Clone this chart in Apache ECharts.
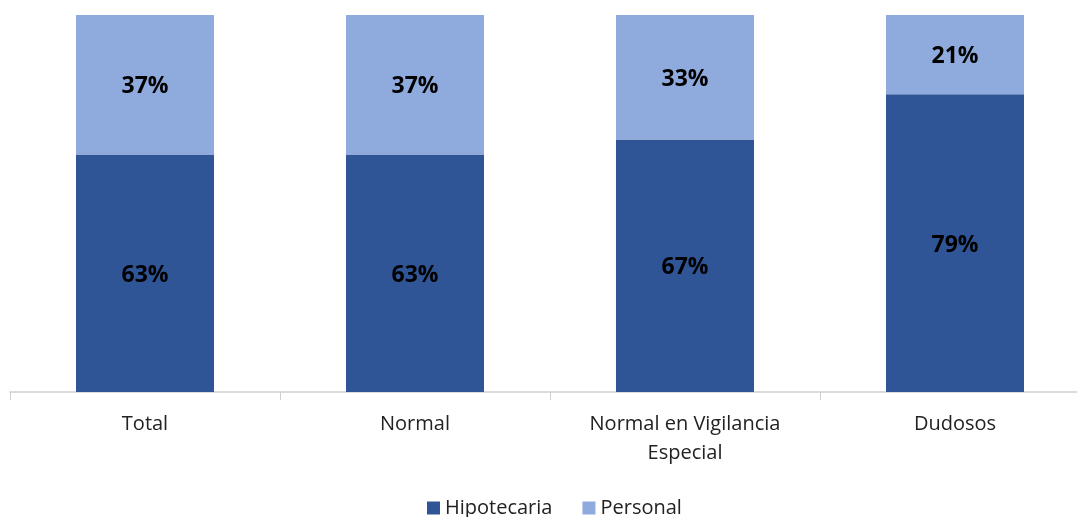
<!DOCTYPE html>
<html><head><meta charset="utf-8">
<script src="https://cdn.jsdelivr.net/npm/echarts@6/dist/echarts.min.js"></script>
<style>html,body{margin:0;padding:0;background:#fff;overflow:hidden;width:1077px;height:517px}#c{width:1100px;height:517px}</style>
</head><body><div id="c"></div>
<script>
var categories = ['Total', 'Normal', 'Normal en Vigilancia\nEspecial', 'Dudosos'];
var hipotecaria = [63, 63, 67, 79];
var personal = [37, 37, 33, 21];
var seriesNames = ['Hipotecaria', 'Personal'];

var chart = echarts.init(document.getElementById('c'));
var font = 'Open Sans';
chart.setOption({
  animation: false,
  grid: {left: 10, top: 15, width: 1080, bottom: 125, containLabel: false},
  legend: {
    bottom: -6, left: 422, itemWidth: 13, itemHeight: 13, itemGap: 30,
    icon: 'rect',
    textStyle: {fontFamily: font, fontSize: 20, color: '#222'},
    data: seriesNames
  },
  xAxis: {
    type: 'category', data: categories,
    axisLine: {lineStyle: {color: '#d0d0d0', width: 1.5}},
    axisTick: {show: true, length: 8, lineStyle: {color: '#d0d0d0'}},
    axisLabel: {fontFamily: font, fontSize: 20, color: '#222', margin: 18, lineHeight: 29, interval: 0}
  },
  yAxis: {type: 'value', min: 0, max: 100, show: false, splitLine: {show: false}},
  series: [
    {name: seriesNames[0], type: 'bar', stack: 'a', data: hipotecaria, barWidth: 138,
     itemStyle: {color: '#2F5597'},
     label: {show: true, position: 'inside', offset: [0, 2], formatter: '{c}%', fontFamily: font, fontWeight: 'bold', fontSize: 23, color: '#000'}},
    {name: seriesNames[1], type: 'bar', stack: 'a', data: personal, barWidth: 138,
     itemStyle: {color: '#8FAADC'},
     label: {show: true, position: 'inside', offset: [0, 2], formatter: '{c}%', fontFamily: font, fontWeight: 'bold', fontSize: 23, color: '#000'}}
  ]
});
</script></body></html>
